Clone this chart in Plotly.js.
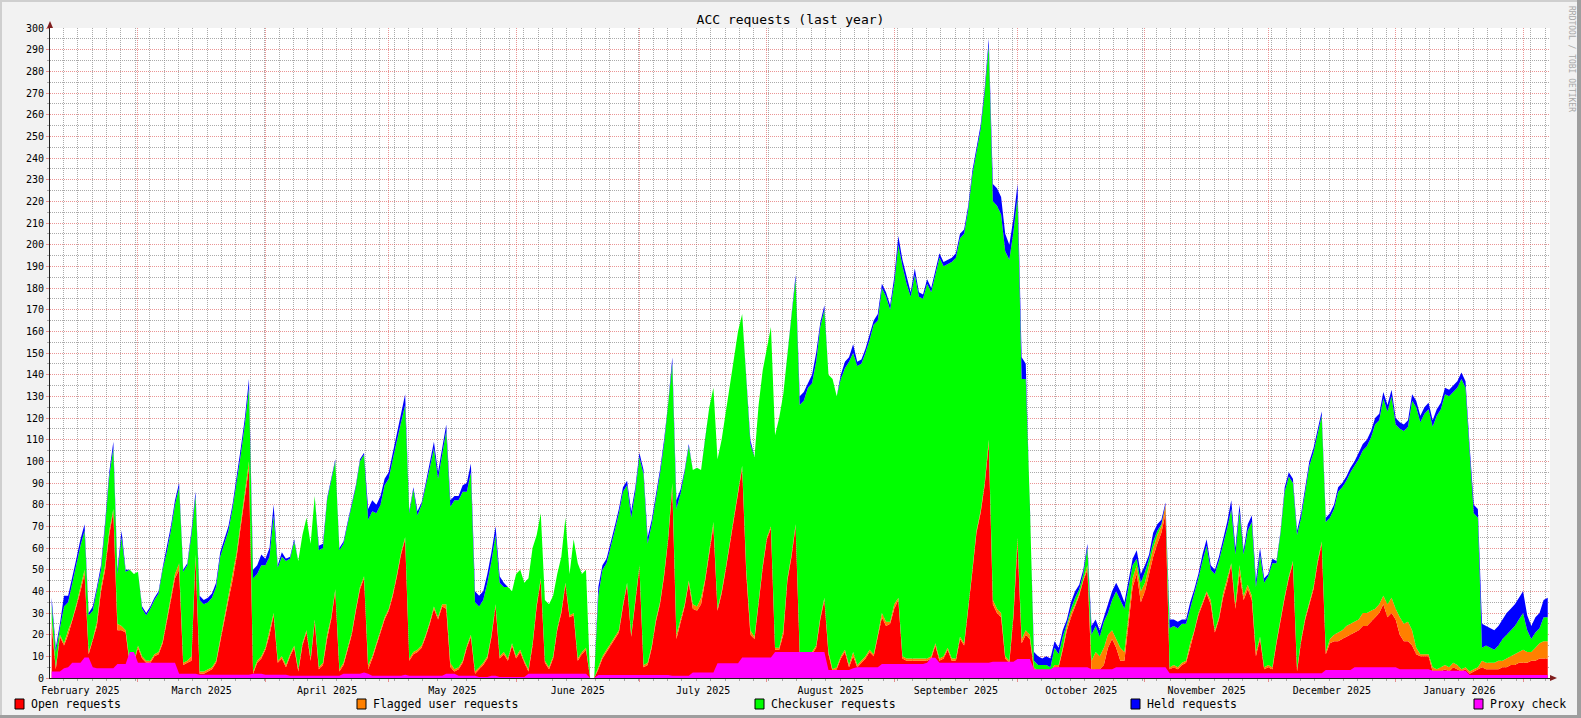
<!DOCTYPE html>
<html><head><meta charset="utf-8">
<script src="https://cdn.plot.ly/plotly-3.0.1.min.js"></script>
<style>html,body{margin:0;padding:0;background:#F2F2F2;}#chart{width:1581px;height:718px;}</style>
</head><body><div id="chart"></div>
<script>
// ---- data (daily values, first day 2025-02-08) ----
const firstDay = '2025-02-08';
const chartTitle = 'ACC requests (last year)';
const seriesNames = ['Open requests', 'Flagged user requests', 'Checkuser requests', 'Held requests', 'Proxy check'];

const openRequests = [
24,4,19,15,20,26,33,40,48,11, 17,24,40,50,66,77,22,22,21,6, 7,14,9,7,7,10,11,16,26,36, 46,50,6,7,8,55,2,2,3,4,
7,17,27,36,45,56,70,83,97,2, 7,9,13,20,29,7,9,5,10,14, 3,15,21,8,26,4,6,18,27,40, 3,6,13,20,31,41,46,4,9,15,
21,27,31,38,47,57,64,8,11,12, 14,19,25,32,27,33,32,5,3,4, 7,14,19,2,4,6,9,19,33,9, 11,8,15,9,12,7,3,15,33,45,
7,4,9,22,30,43,28,29,8,11, 13,0,0,4,9,12,15,18,21,33, 43,19,36,51,5,6,14,26,34,47, 64,88,18,26,33,44,32,31,34,45,
57,70,31,39,50,62,73,87,97,48, 20,18,36,51,64,69,13,13,20,45, 56,70,11,11,11,11,14,27,36,11, 3,4,9,12,5,10,5,7,9,12,
10,19,28,24,25,32,36,9,8,8, 8,8,8,8,9,15,8,9,13,8, 8,18,15,31,49,67,76,89,108,34, 30,28,9,7,28,62,16,20,18,4,
2,2,2,2,5,5,13,22,28,33, 38,45,50,3,4,4,6,14,18,14, 8,8,26,42,48,35,40,48,56,62, 67,76,4,5,4,6,7,14,21,29,
34,39,34,21,27,37,44,52,32,48, 36,41,36,10,18,4,5,4,16,27, 37,46,53,3,17,27,34,41,53,62, 11,16,17,17,18,19,20,21,22,24,
24,26,28,30,34,28,30,27,20,17, 17,15,11,10,10,10,3,3,3,4, 3,5,4,3,4,2,3,4,5,4, 4,4,4,5,5,6,6,7,7,7, 8,8,9,9,9];

const flaggedUserRequests = [
3,1,1,1,2,1,1,2,2,1, 1,2,2,2,2,1,3,2,1,1, 1,1,1,1,1,1,1,1,2,2, 2,3,1,1,2,2,1,1,1,1,
1,1,1,2,2,2,2,2,3,1, 1,1,1,2,1,1,1,1,1,1, 1,1,1,1,1,1,1,2,1,1, 1,1,1,1,1,1,1,2,1,1,
1,1,1,1,1,1,1,1,1,1, 1,1,1,1,1,1,2,2,1,1, 1,1,1,1,1,1,1,1,1,1, 1,1,1,1,1,1,1,1,1,1,
1,1,1,1,1,1,1,1,1,1, 1,0,0,1,1,1,1,1,1,1, 1,1,1,1,1,1,1,1,1,1, 1,2,2,1,1,1,2,2,3,1,
1,2,1,1,1,1,2,1,1,2, 2,1,1,1,1,1,1,1,2,1, 1,1,1,1,1,1,1,1,1,1, 1,1,1,1,1,2,1,1,1,1,
1,1,2,2,1,2,1,1,1,1, 1,1,1,1,1,1,1,1,1,1, 1,1,1,1,1,1,1,1,2,2, 2,2,1,1,2,3,2,2,2,1,
1,1,1,1,1,1,1,2,2,1, 1,1,2,5,8,6,8,6,4,4, 6,4,4,4,4,5,4,4,4,4, 3,4,1,1,1,1,1,2,1,1,
1,1,2,1,1,2,2,1,2,4, 2,2,2,2,1,1,1,1,1,1, 1,1,1,1,1,1,1,1,1,1, 1,2,3,4,4,5,5,5,5,6,
6,5,4,4,4,6,7,5,8,8, 9,7,3,1,1,1,2,1,2,2, 2,2,2,1,1,1,1,1,3,3, 3,3,4,3,4,4,5,5,6,5, 4,6,7,8,8];

const checkuserRequests = [
7,7,3,17,13,17,19,19,18,17, 13,14,8,18,25,28,23,41,27,43, 40,34,22,21,24,25,27,33,30,30, 32,35,42,44,56,27,33,31,31,32,
34,38,34,30,31,32,31,32,34,43, 40,42,38,34,45,43,46,48,44,48, 50,50,52,53,57,54,53,62,63,59, 55,55,57,58,56,58,56,67,67,60,
58,61,60,62,62,60,61,67,75,62, 65,68,71,73,64,69,80,72,78,77, 78,71,75,32,28,29,34,34,32,34, 30,33,24,38,37,36,42,44,32,30,
28,29,28,25,25,30,19,34,44,36, 36,0,0,33,40,40,44,49,54,52, 45,54,49,50,88,55,56,55,59,60, 60,55,58,58,61,62,62,64,59,64,
67,62,69,70,71,73,73,72,70,90, 86,83,89,90,88,92,98,106,109,104, 110,113,114,116,122,124,131,134,133,128, 134,125,128,130,140,138,138,137,140,143,
152,145,150,150,144,148,163,180,173,167, 177,167,166,173,168,170,185,180,177,183, 185,184,189,184,182,175,176,180,182,184, 186,184,187,185,176,157,120,116,60,3,
3,3,3,2,8,5,5,1,2,3, 2,2,8,12,12,9,12,10,14,22, 22,20,12,6,3,4,5,3,3,2, 1,0,18,18,18,18,17,16,16,16,
19,21,14,26,26,22,23,25,23,25, 19,25,34,30,38,39,41,48,36,39, 48,46,36,62,56,58,63,62,59,58, 60,56,58,65,66,67,70,72,74,75,
77,80,85,85,91,89,93,85,87,89, 90,106,111,107,111,113,111,117,119,125, 125,125,128,134,129,101,72,69,6,8, 7,6,7,10,11,12,13,15,17,10, 6,7,7,11,11];

const heldRequests = [
3,2,2,5,3,2,2,3,3,1, 2,2,2,2,2,3,2,3,1,0, 0,0,1,1,1,1,1,1,2,2, 2,2,1,1,2,2,2,2,2,2,
2,2,2,2,2,2,3,3,4,4, 4,5,3,4,5,1,2,1,1,1, 0,0,0,0,0,2,2,1,1,1, 1,1,1,1,1,1,1,5,5,4,
4,3,3,3,3,4,5,1,1,2, 1,2,2,3,3,4,3,3,2,2, 3,4,4,5,5,4,4,4,4,3, 2,0,0,0,0,0,0,0,0,0,
0,0,0,0,0,0,0,0,0,0, 0,0,0,4,2,2,2,2,2,2, 2,3,2,2,2,3,2,2,2,2, 2,3,4,2,1,1,0,0,0,0,
0,0,0,0,0,0,0,0,0,0, 2,0,0,0,0,0,0,0,0,0, 0,2,4,4,2,4,4,2,2,0, 0,0,2,3,2,4,2,2,2,2,
2,3,2,2,2,3,4,3,3,2, 3,2,2,2,2,2,2,2,2,2, 2,2,2,2,2,2,2,2,3,8, 8,8,8,7,6,6,10,7,4,4,
4,3,4,4,3,3,3,2,3,3, 2,2,2,4,3,3,2,4,4,4, 4,3,4,3,4,4,3,2,4,3, 2,1,4,3,3,2,2,3,3,2,
3,3,2,2,2,3,3,4,3,3, 2,3,3,3,3,2,1,2,1,1, 2,2,2,2,2,2,2,2,2,2, 2,2,2,2,2,2,2,2,3,3,
3,3,3,3,3,3,3,3,3,3, 3,3,3,3,3,3,3,3,3,3, 3,3,3,3,3,3,4,4,11,9, 9,9,9,9,10,10,10,10,10,7, 6,7,7,8,9];

const proxyCheck = [
3,3,3,4.5,5,7,7,7,9.5,9.5, 5,4.5,4.5,4.5,4.5,4.5,6.5,6.5,6.5,12, 12,7,7,7,7,7,7,7,7,7, 7,2,2,2,2,2,1.5,1.5,1.5,1.5,
1.5,1.5,1.5,1.5,1.5,1.5,1.5,1.5,1.5,2, 2,2,1.5,1.5,1.5,1.5,1.5,1.5,1,1, 1,1,1,1,1,1,1,1,1,1, 1,2,2,2,2,2,2.5,2,1,1,
1,1,1,1,1,1,1.5,1,1,1, 1,1,1,1,1,1,2,2,2,1, 1,1,1,1,0.5,0.5,0.5,1,1,0.5, 0.5,0.5,0.5,0.5,0.5,0.5,2,2,2,2,
2,2,2,2,2,2,2,2,2,2, 2,0,0,1.4,1.4,1.4,1.4,1.4,1.4,1.4, 1.4,1.4,1.4,1.4,1.4,1.4,1.4,1.4,1.4,1.4, 1.4,1,1,1,1,1,2.5,2.5,2.5,2.5,
2.5,2.5,6.8,6.8,6.8,6.8,6.8,6.8,9.5,9.5, 9.5,9.5,9.5,9.5,9.5,9.5,12,12,12,12, 12,12,12,12,12,12,12,12,12,3.7, 3.7,3.7,3.7,3.7,3.7,4.5,5,5,5,5,
5,5,6.5,6.5,6.5,6.5,6.5,6.5,6.5,6.5, 6.5,6.5,6.5,7,9.4,9.4,7,7,7,7, 7,7,7,7,7,7,7,7,7,7.5, 7.5,7.5,7.5,7.5,7.5,8.8,8.8,8.8,8.8,4,
4,4,4,4,5,5,5,5,5,5, 5,5,5,4,4,4,4,4,4,5, 5,5,5,5,5,5,5,5,5,5, 5,5,2.2,2.2,2.2,2.2,2.2,2.2,2.2,2.2,
2.2,2.2,2.2,2.2,2.2,2.2,2.2,2.2,2.2,2.2, 2.2,2.2,2.2,2.2,2.2,2.2,2.2,2.2,2.2,2.2, 2.2,2.2,2.2,2.2,2.2,2.2,2.2,2.2,2.2,2.2, 3.7,3.7,3.7,3.7,3.7,3.7,3.7,5,5,5,
5,5,5,5,5,5,5,5,4,4, 4,4,4,4,4,4,3.4,3.4,3.4,3.4, 3.4,3.4,3.4,3.4,3.4,1.4,1.4,1.4,1.4,1.4, 1.4,1.4,1.4,1.4,1.4,1.4,1.4,1.4,1.4,1.4, 1.4,1.4,1.4,1.4,1.4];

// ---- styles ----
const seriesColors = ['#FF0000', '#FF8000', '#00FF00', '#0000FF', '#FF00FF'];
const FONT = 'DejaVu Sans Mono, monospace';
const MAJOR_GRID = 'rgba(222,79,79,0.6)';
const MINOR_GRID = 'rgba(143,143,143,0.75)';
const PLOT = {W: 1581, H: 718, l: 50, r: 31, t: 28, b: 40};
const pw = PLOT.W - PLOT.l - PLOT.r, ph = PLOT.H - PLOT.t - PLOT.b;
const px = X => (X - PLOT.l) / pw;
const py = Y => (PLOT.H - PLOT.b - Y) / ph;

function dayList(n) {
  const t0 = Date.parse(firstDay + 'T00:00:00Z');
  const out = [];
  for (let i = 0; i < n; i++) out.push(new Date(t0 + i * 86400000).toISOString().slice(0, 10));
  return out;
}
const x = dayList(openRequests.length);

const stacked = [openRequests, flaggedUserRequests, checkuserRequests, heldRequests];
const traces = stacked.map((y, k) => ({
  type: 'scatter', mode: 'lines', x: x, y: y, stackgroup: 'acc', name: seriesNames[k],
  line: {width: 0, color: seriesColors[k]}, fillcolor: seriesColors[k], hoverinfo: 'skip', showlegend: false
}));
traces.push({type: 'scatter', mode: 'lines', x: x, y: proxyCheck, fill: 'tozeroy', name: seriesNames[4],
  line: {width: 0, color: seriesColors[4]}, fillcolor: seriesColors[4], hoverinfo: 'skip', showlegend: false});

// ---- decorations ----
const shapes = [], annotations = [];
function rectPx(X0, Y0, X1, Y1, fill, lineColor) {
  shapes.push({type: 'rect', xref: 'paper', yref: 'paper', x0: px(X0), x1: px(X1), y0: py(Y1), y1: py(Y0),
    fillcolor: fill, line: lineColor ? {color: lineColor, width: 1} : {width: 0}, layer: 'above'});
}
// 3D border
rectPx(0, 0, PLOT.W, 2, '#CFCFCF');
rectPx(0, 0, 2, PLOT.H, '#CFCFCF');
rectPx(0, PLOT.H - 3, PLOT.W, PLOT.H, '#9E9E9E');
rectPx(PLOT.W - 4, 0, PLOT.W, PLOT.H, '#9E9E9E');
// axis arrows
const ARROW = '#801F1F';
shapes.push({type: 'path', xref: 'paper', yref: 'paper', fillcolor: ARROW, line: {width: 0},
  path: `M ${px(47)} ${py(28)} L ${px(53)} ${py(28)} L ${px(50)} ${py(21)} Z`});
shapes.push({type: 'path', xref: 'paper', yref: 'paper', fillcolor: ARROW, line: {width: 0},
  path: `M ${px(1550)} ${py(675)} L ${px(1550)} ${py(681)} L ${px(1557)} ${py(678)} Z`});
// legend
const legendBoxX = [15, 357, 755, 1131, 1474];
seriesNames.forEach((name, k) => {
  rectPx(legendBoxX[k], 699, legendBoxX[k] + 9, 709, seriesColors[k], '#000000');
  annotations.push({xref: 'paper', yref: 'paper', x: px(legendBoxX[k] + 14), y: py(704), text: name,
    showarrow: false, xanchor: 'left', yanchor: 'middle', font: {family: FONT, size: 11.5, color: '#000'}});
});
// watermark
annotations.push({xref: 'paper', yref: 'paper', x: px(1572), y: py(59), text: 'RRDTOOL / TOBI OETIKER',
  textangle: 90, showarrow: false, xanchor: 'center', yanchor: 'middle', font: {family: FONT, size: 8, color: '#A8A8A8'}});

const layout = {
  width: PLOT.W, height: PLOT.H, autosize: false,
  paper_bgcolor: '#F2F2F2', plot_bgcolor: '#FFFFFF',
  margin: {l: PLOT.l, r: PLOT.r, t: PLOT.t, b: PLOT.b, pad: 0},
  font: {family: FONT, size: 10, color: '#000'},
  showlegend: false,
  title: {text: chartTitle, x: 0.5, xref: 'container', y: 1 - 19.5 / PLOT.H, yref: 'container',
    xanchor: 'center', yanchor: 'middle', font: {family: FONT, size: 13, color: '#000'}},
  xaxis: {
    type: 'date', range: ['2025-02-07 14:10', '2026-02-07 13:12'],
    tick0: '2025-01-01', dtick: 'M1', ticklabelmode: 'period', tickformat: '%B %Y',
    showgrid: true, gridcolor: MAJOR_GRID, griddash: '1px,1px', gridwidth: 1,
    ticks: 'outside', ticklen: 3, tickcolor: MAJOR_GRID, tickfont: {family: FONT, size: 10, color: '#000'},
    showline: true, linecolor: '#1F1F1F', linewidth: 1, zeroline: false, fixedrange: true,
    minor: {tick0: '2025-02-10 20:00', dtick: 302400000, showgrid: true, gridcolor: MINOR_GRID,
      griddash: '1px,1px', ticks: 'outside', ticklen: 2, tickcolor: MINOR_GRID}
  },
  yaxis: {
    range: [0, 300], tick0: 0, dtick: 10,
    showgrid: true, gridcolor: MAJOR_GRID, griddash: '1px,1px', gridwidth: 1,
    ticks: 'outside', ticklen: 3, tickcolor: MAJOR_GRID, tickfont: {family: FONT, size: 10, color: '#000'},
    showline: true, linecolor: '#1F1F1F', linewidth: 1, zeroline: false, fixedrange: true,
    minor: {dtick: 5, showgrid: true, gridcolor: MINOR_GRID, griddash: '1px,1px', ticks: 'outside', ticklen: 2, tickcolor: MINOR_GRID}
  },
  shapes: shapes, annotations: annotations
};

Plotly.newPlot('chart', traces, layout, {displayModeBar: false, staticPlot: true});
</script></body></html>
